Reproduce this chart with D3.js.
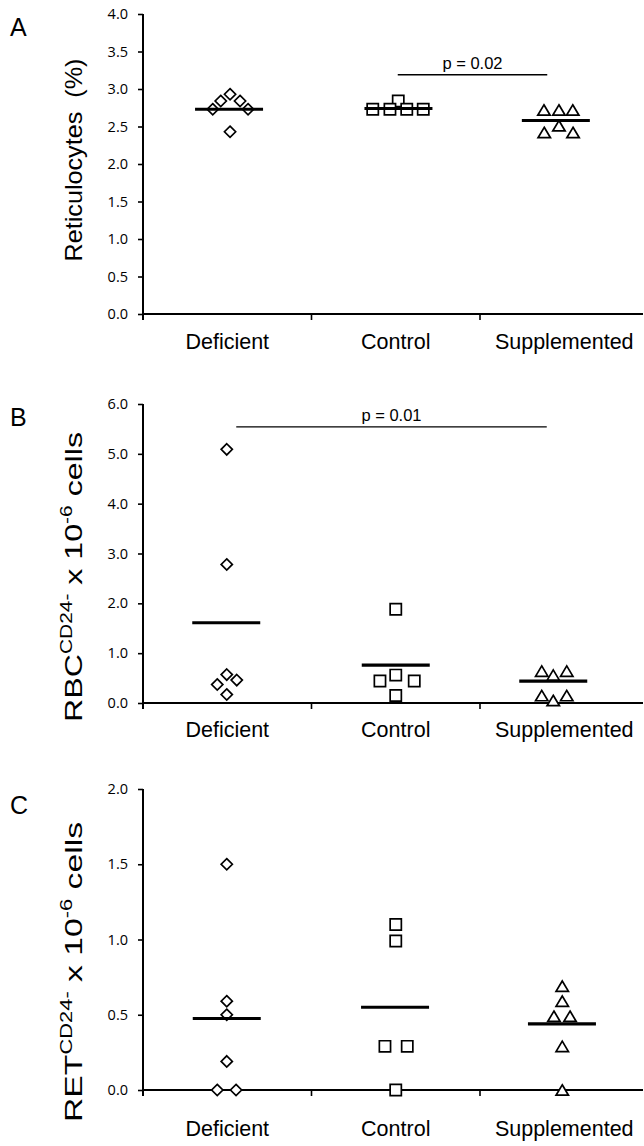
<!DOCTYPE html>
<html><head><meta charset="utf-8">
<script src="https://cdn.jsdelivr.net/npm/d3@7/dist/d3.min.js"></script>
<style>
body{margin:0;background:#fff;}
svg{display:block;}
</style></head>
<body>
<script>
// ---------- DATA ----------
const categories = ["Deficient", "Control", "Supplemented"];

// Panel A: Reticulocytes (%)
const retDeficient    = [2.73, 2.84, 2.93, 2.84, 2.73, 2.43];
const retControl      = [2.84, 2.73, 2.73, 2.73, 2.73];
const retSupplemented = [2.72, 2.72, 2.72, 2.42, 2.51, 2.42];
const retMeans        = [2.73, 2.74, 2.58];
const retTicks        = [0, 0.5, 1.0, 1.5, 2.0, 2.5, 3.0, 3.5, 4.0];

// Panel B: RBC CD24- x 10^-6 cells
const rbcDeficient    = [5.09, 2.78, 0.57, 0.37, 0.46, 0.17];
const rbcControl      = [1.88, 0.44, 0.56, 0.44, 0.15];
const rbcSupplemented = [0.64, 0.56, 0.64, 0.15, 0.05, 0.15];
const rbcMeans        = [1.61, 0.76, 0.44];
const rbcTicks        = [0, 1, 2, 3, 4, 5, 6];

// Panel C: RET CD24- x 10^-6 cells
const retcDeficient    = [1.50, 0.59, 0.50, 0.19, 0, 0];
const retcControl      = [1.10, 0.99, 0.29, 0.29, 0];
const retcSupplemented = [0.69, 0.59, 0.49, 0.49, 0.29, 0];
const retcMeans        = [0.475, 0.55, 0.44];
const retcTicks        = [0, 0.5, 1.0, 1.5, 2.0];

// p-values
const pLabels = ["p = 0.02", "p = 0.01"];

// ---------- LAYOUT (horizontal dodge of overlapping points, px) ----------
const dodgeA = [[-14.5,-6.5,2.8,12.8,20.8,2.8],[2.5,-23,-5.8,11,27.5],[-20.3,-5.3,8.5,-20,-5.3,8.8]];
const meanShiftA = [1.8, 2.7, -8.4];
const dodgeB = [[-0.5,-0.5,-0.5,-10,9.5,-0.5],[0,-15.8,0,18.5,0],[-22.5,-11,2.5,-22.5,-11,2.5]];
const meanShiftB = [-1, 0, -11];
const dodgeC = [[-0.5,-0.5,-0.5,-0.5,-10,8.8],[0,0,-10.8,11.5,0],[-2,-2,-10.3,5.8,-2,-2]];
const meanShiftC = [-0.5, -0.7, -2.3];

const W = 644, H = 1146;
const svg = d3.select("body").append("svg").attr("width", W).attr("height", H);

const AX = 143;
const x = d3.scaleBand().domain(categories).range([AX, 648.5]).padding(0);
const shapes = ["diamond", "square", "triangle"];

function shapePath(kind) {
  if (kind === "diamond") { const r = 5.6; return `M0,${-r}L${r},0L0,${r}L${-r},0Z`; }
  if (kind === "square") { const r = 5.6; return `M${-r},${-r}H${r}V${r}H${-r}Z`; }
  const w = 6.2, h = 5.2; return `M0,${-h}L${w},${h}L${-w},${h}Z`;
}

const panels = [
  { letter: "A", top: 14, bottom: 314, max: 4, ticks: retTicks,
    groups: [retDeficient, retControl, retSupplemented], means: retMeans,
    dodge: dodgeA, meanShift: meanShiftA, catDy: 35, letterY: 36,
    title: [{t: "Reticulocytes\u00A0 (%)"}], titleY: 160, titleSize: 24, titleLen: 203,
    sig: { from: 1, fromOff: 2, to: 2, toOff: -17, y: 3.19, label: pLabels[0] } },
  { letter: "B", top: 404, bottom: 703, max: 6, ticks: rbcTicks,
    groups: [rbcDeficient, rbcControl, rbcSupplemented], means: rbcMeans,
    dodge: dodgeB, meanShift: meanShiftB, catDy: 34, letterY: 426,
    title: [{t: "RBC"}, {t: "CD24-", sup: true}, {t: "\u00A0x 10"}, {t: "-6", sup: true}, {t: "\u00A0cells"}],
    titleY: 577, titleSize: 24, titleLen: 290,
    sig: { from: 0, fromOff: 9, to: 2, toOff: -17.5, y: 5.54, label: pLabels[1] } },
  { letter: "C", top: 789, bottom: 1090, max: 2, ticks: retcTicks,
    groups: [retcDeficient, retcControl, retcSupplemented], means: retcMeans,
    dodge: dodgeC, meanShift: meanShiftC, catDy: 46, letterY: 814,
    title: [{t: "RET"}, {t: "CD24-", sup: true}, {t: "\u00A0x 10"}, {t: "-6", sup: true}, {t: "\u00A0cells"}],
    titleY: 972, titleSize: 24, titleLen: 300, sig: null }
];

panels.forEach(p => {
  const g = svg.append("g");
  const y = d3.scaleLinear().domain([0, p.max]).range([p.bottom, p.top]);

  // panel letter
  g.append("text").attr("x", 10).attr("y", p.letterY)
    .attr("font-family", "Liberation Sans, Arial, sans-serif").attr("font-size", 25)
    .text(p.letter);

  // y axis
  const yAxis = d3.axisLeft(y).tickValues(p.ticks).tickFormat(d3.format(".1f")).tickSizeOuter(0).tickSize(5).tickPadding(10);
  const ya = g.append("g").attr("transform", `translate(${AX},0)`).call(yAxis);
  ya.select(".domain").attr("stroke-width", 2).attr("d", `M0,${p.top}V${p.bottom + 6}`);
  ya.selectAll(".tick line").attr("stroke-width", 1.6);
  ya.selectAll(".tick text").attr("font-family", "Open Sans, sans-serif").attr("font-size", 14.5).attr("fill", "#000");

  // x axis
  const xa = g.append("g").attr("transform", `translate(0,${p.bottom})`);
  xa.append("line").attr("x1", AX).attr("x2", 643).attr("stroke", "#000").attr("stroke-width", 2);
  const bounds = categories.map(c => x(c));
  xa.selectAll("line.xt").data(bounds).join("line").attr("class", "xt")
    .attr("x1", d => d).attr("x2", d => d).attr("y1", 0).attr("y2", 6)
    .attr("stroke", "#000").attr("stroke-width", 1.6);
  xa.selectAll("text.cat").data(categories).join("text").attr("class", "cat")
    .attr("x", d => x(d) + x.bandwidth() / 2).attr("y", p.catDy)
    .attr("text-anchor", "middle").attr("font-family", "Liberation Sans, Arial, sans-serif")
    .attr("font-size", 21.5).text(d => d);

  // y title
  const tt = g.append("text").attr("transform", `translate(73,${p.titleY}) rotate(-90)`)
    .attr("text-anchor", "middle").attr("dominant-baseline", "central")
    .attr("font-family", "Liberation Sans, Arial, sans-serif").attr("font-size", p.titleSize)
    .attr("textLength", p.titleLen).attr("lengthAdjust", "spacingAndGlyphs");
  let prevSup = false;
  p.title.forEach(part => {
    const ts = tt.append("tspan").text(part.t);
    if (part.sup) ts.attr("font-size", p.titleSize * 0.65);
    if (part.sup && !prevSup) ts.attr("dy", -7);
    else if (!part.sup && prevSup) ts.attr("dy", 7);
    prevSup = !!part.sup;
  });

  // points
  p.groups.forEach((vals, gi) => {
    const cx = x(categories[gi]) + x.bandwidth() / 2;
    g.selectAll(null).data(vals).join("path")
      .attr("d", shapePath(shapes[gi]))
      .attr("transform", (d, i) => `translate(${cx + p.dodge[gi][i]},${y(d)})`)
      .attr("fill", "#fff").attr("stroke", "#000").attr("stroke-width", 1.7);
  });

  // mean lines
  g.selectAll(null).data(p.means).join("line")
    .attr("x1", (d, i) => x(categories[i]) + x.bandwidth() / 2 + p.meanShift[i] - 34)
    .attr("x2", (d, i) => x(categories[i]) + x.bandwidth() / 2 + p.meanShift[i] + 34)
    .attr("y1", d => y(d)).attr("y2", d => y(d))
    .attr("stroke", "#000").attr("stroke-width", 3.2);

  // significance
  if (p.sig) {
    const s = p.sig;
    const x1 = x(categories[s.from]) + x.bandwidth() / 2 + s.fromOff;
    const x2 = x(categories[s.to]) + x.bandwidth() / 2 + s.toOff;
    g.append("line").attr("x1", x1).attr("x2", x2).attr("y1", y(s.y)).attr("y2", y(s.y))
      .attr("stroke", "#000").attr("stroke-width", 1.3);
    g.append("text").attr("x", (x1 + x2) / 2).attr("y", y(s.y) - 6)
      .attr("text-anchor", "middle").attr("font-family", "Liberation Sans, Arial, sans-serif")
      .attr("font-size", 16.5).text(s.label);
  }
});
</script>
</body></html>
